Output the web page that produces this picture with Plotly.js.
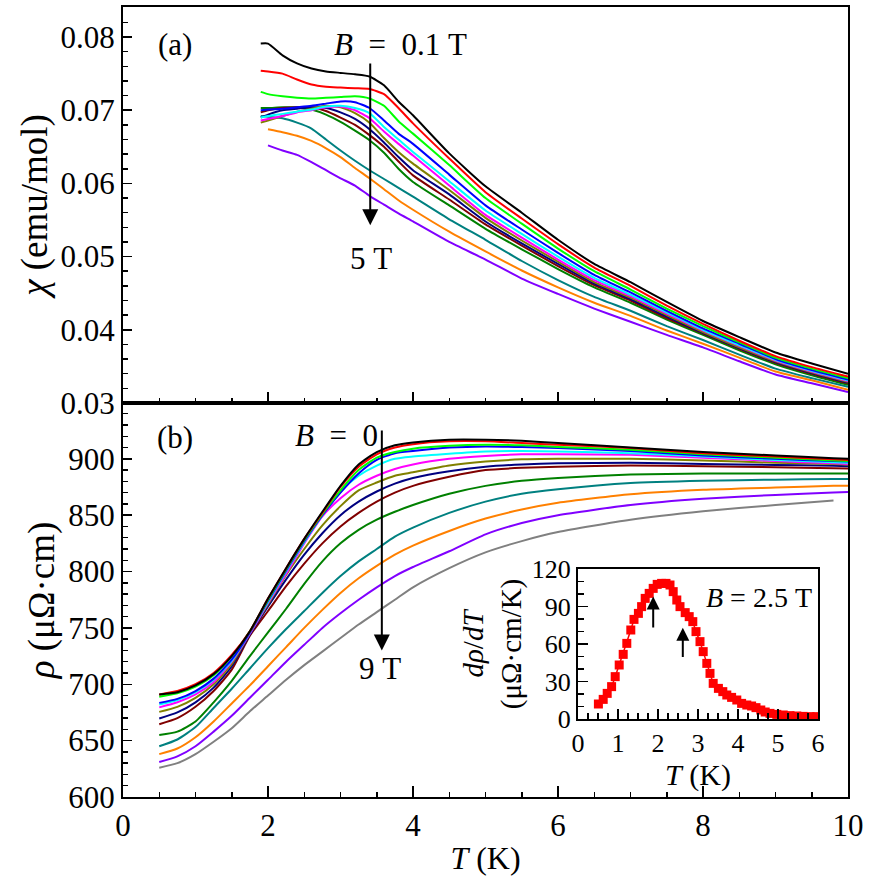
<!DOCTYPE html>
<html>
<head>
<meta charset="utf-8">
<script src="https://cdn.plot.ly/plotly-3.0.1.min.js"></script>
<style>html,body{margin:0;padding:0;background:#fff;}#chart{width:876px;height:888px;}</style>
</head>
<body>
<div id="chart"></div>
<script>
// ---------- panel (a): susceptibility chi(T), B = 0.1 ... 5 T ----------
const T_chi = [1.9, 2.0, 2.2, 2.4, 2.6, 2.8, 3.0, 3.2, 3.4, 3.6, 3.8, 4.0, 4.5, 5.0, 5.5, 6.0, 6.5, 7.0, 7.5, 8.0, 8.5, 9.0, 9.5, 10.0];
const chi_black   = [0.0791,0.0791,0.0775,0.0764,0.0757,0.0753,0.0751,0.0749,0.0746,0.0734,0.0712,0.0693,0.0641,0.0596,0.0560,0.0523,0.0490,0.0465,0.0438,0.0412,0.0390,0.0369,0.0354,0.0340];
const chi_red     = [0.0754,0.0753,0.0750,0.0742,0.0735,0.0732,0.0731,0.0730,0.0729,0.0722,0.0703,0.0682,0.0634,0.0588,0.0552,0.0517,0.0485,0.0460,0.0433,0.0408,0.0385,0.0364,0.0349,0.0336];
const chi_green   = [0.0725,0.0722,0.0719,0.0717,0.0716,0.0717,0.0718,0.0719,0.0716,0.0706,0.0685,0.0668,0.0625,0.0580,0.0545,0.0511,0.0480,0.0455,0.0429,0.0405,0.0383,0.0362,0.0347,0.0334];
const chi_blue    = [0.0700,0.0701,0.0702,0.0704,0.0706,0.0709,0.0712,0.0711,0.0703,0.0686,0.0668,0.0654,0.0612,0.0570,0.0537,0.0505,0.0475,0.0451,0.0426,0.0402,0.0381,0.0360,0.0345,0.0332];
const chi_cyan    = [0.0690,0.0692,0.0695,0.0698,0.0701,0.0705,0.0706,0.0703,0.0696,0.0677,0.0660,0.0643,0.0603,0.0563,0.0531,0.0500,0.0471,0.0448,0.0424,0.0400,0.0379,0.0359,0.0344,0.0331];
const chi_magenta = [0.0686,0.0688,0.0692,0.0697,0.0700,0.0704,0.0705,0.0700,0.0689,0.0671,0.0654,0.0638,0.0597,0.0557,0.0526,0.0496,0.0468,0.0446,0.0422,0.0399,0.0378,0.0358,0.0343,0.0330];
const chi_olive   = [0.0683,0.0686,0.0692,0.0698,0.0702,0.0706,0.0704,0.0696,0.0683,0.0662,0.0643,0.0627,0.0591,0.0553,0.0522,0.0493,0.0465,0.0444,0.0420,0.0397,0.0376,0.0357,0.0342,0.0329];
const chi_navy    = [0.0690,0.0694,0.0700,0.0702,0.0704,0.0703,0.0697,0.0688,0.0674,0.0656,0.0636,0.0618,0.0585,0.0548,0.0518,0.0490,0.0463,0.0442,0.0418,0.0396,0.0375,0.0356,0.0341,0.0328];
const chi_maroon  = [0.0697,0.0700,0.0703,0.0704,0.0704,0.0699,0.0690,0.0680,0.0666,0.0650,0.0630,0.0611,0.0578,0.0544,0.0515,0.0487,0.0461,0.0440,0.0416,0.0395,0.0374,0.0355,0.0340,0.0327];
const chi_dkgreen = [0.0703,0.0703,0.0704,0.0704,0.0701,0.0694,0.0684,0.0672,0.0659,0.0642,0.0620,0.0602,0.0570,0.0538,0.0510,0.0483,0.0458,0.0437,0.0414,0.0393,0.0372,0.0353,0.0338,0.0325];
const chi_teal    = [0.0692,0.0691,0.0689,0.0683,0.0675,0.0660,0.0645,0.0631,0.0618,0.0606,0.0594,0.0582,0.0551,0.0523,0.0494,0.0468,0.0445,0.0426,0.0405,0.0386,0.0366,0.0347,0.0334,0.0322];
const chi_orange  = [null,0.0674,0.0670,0.0665,0.0658,0.0648,0.0636,0.0621,0.0607,0.0592,0.0577,0.0564,0.0534,0.0507,0.0481,0.0458,0.0437,0.0419,0.0399,0.0381,0.0362,0.0343,0.0331,0.0318];
const chi_purple  = [null,0.0652,0.0645,0.0639,0.0629,0.0618,0.0607,0.0597,0.0583,0.0571,0.0559,0.0548,0.0520,0.0496,0.0470,0.0449,0.0429,0.0411,0.0393,0.0376,0.0357,0.0339,0.0327,0.0315];

// ---------- panel (b): resistivity rho(T), B = 0 ... 9 T ----------
const T_rho = [0.5, 0.75, 1.0, 1.25, 1.5, 1.75, 2.0, 2.25, 2.5, 2.75, 3.0, 3.25, 3.5, 3.75, 4.0, 4.5, 5.0, 5.5, 6.0, 7.0, 8.0, 9.0, 9.8, 10.0];
const rho_black   = [691,693,699,709,725,747,776,803,829,853,876,895,906,912,914.5,917,917,916,914,910,906,903,900.5,900];
const rho_red     = [691,694,700,710,726,747,776,803,829,852,875,893,904,910,913,915.5,915.5,914,912.5,909.5,905,902,899.5,899];
const rho_green   = [689,692,698,708,725,747,775,802,828,851,872,890,901,906,909,911.5,912.5,912,910.5,908,904,901,898.5,898];
const rho_blue    = [683.5,687,694,705,722,746,774,801,827,850,870,887,899,905,907,910,911,910.5,909.5,907,903,900,898,897.5];
const rho_cyan    = [682,686,693,704,721,746,773,800,826,850,871,885,894,900,902,904.5,906.5,907,906.5,905,902,899,897,896.5];
const rho_magenta = [679.5,684,691,702,720,745,772,798,825,849,865,877,885,891,895,900,902.5,904,904,903.5,901,898,896,895.5];
const rho_olive   = [675.5,680,688,700,718,745,771,797,820,841,858,872,879,885,888,894,897.5,899.5,900,900,898.5,896.5,895.5,895];
const rho_navy    = [669.6,675,684,697,716,744,769,793,815,834,850,862,871,878,883,889,893,895,896,896.5,895.5,894.5,893.8,893.5];
const rho_maroon  = [664.6,670,680,694,713,743,765,787,807,825,840,852,862,870,876,884,890,892,893,894,893.5,892.5,891.7,891.5];
const rho_dkgreen = [655,658,667,684,703,725,746,767,789,809,825,837,846,853,859,869,876,880.5,883,886,887,887,887,887];
const rho_teal    = [645,651,662,679,696,714,732,749,765,781,796,809,820,831,839,852,862,869,873,878.5,880.5,881.5,882,882];
const rho_orange  = [638,643,653,667,683,699,716,733,750,766,781,794,805,815,823,836,847,855,861,868.5,872.5,874.5,876,876];
const rho_purple  = [631,636,645,658,672,688,704,720,735,750,763,775,786,796,804,818,833,843,850,859,864.5,868,870,870.5];
const rho_gray    = [626,630,638,649,661,676,690,704,717,729,741,753,764,775,786,803,817,827,835,846,853.5,859,863,null];

// ---------- inset: d rho / dT at B = 2.5 T ----------
const T_inset = [0.51,0.63,0.73,0.84,0.93,1.03,1.13,1.22,1.32,1.40,1.51,1.59,1.68,1.78,1.88,1.98,2.09,2.20,2.30,2.38,2.47,2.55,2.68,2.78,2.87,2.95,3.05,3.13,3.22,3.30,3.38,3.51,3.62,3.72,3.84,3.97,4.09,4.22,4.34,4.45,4.57,4.68,4.80,4.97,5.13,5.30,5.47,5.63,5.80,5.97];
const drho_inset = [12,15.7,20.5,25.9,33.9,43.2,51.7,60.5,71.2,79.7,84.5,89.9,96.5,100.5,104.5,107.7,108.5,108.5,107.2,101.9,95.2,89.9,85.1,81.9,77.9,69.9,61.9,53.9,44.5,36.5,28.5,24.5,21.9,19.2,17.3,15.2,12.5,11.2,10.4,9.1,7.2,5.6,4.5,3.7,3.2,2.7,2.4,2.1,1.9,1.9];

const chiSeries = [chi_black, chi_red, chi_green, chi_blue, chi_cyan, chi_magenta, chi_olive, chi_navy, chi_maroon, chi_dkgreen, chi_teal, chi_orange, chi_purple];
const chiColors = ['#000000','#ff0000','#00ff00','#0000ff','#00ffff','#ff00ff','#808000','#000080','#800000','#008000','#008080','#ff8000','#8000ff'];
const rhoSeries = [rho_black, rho_red, rho_green, rho_blue, rho_cyan, rho_magenta, rho_olive, rho_navy, rho_maroon, rho_dkgreen, rho_teal, rho_orange, rho_purple, rho_gray];
const rhoColors = ['#000000','#ff0000','#00ff00','#0000ff','#00ffff','#ff00ff','#808000','#000080','#800000','#008000','#008080','#ff8000','#8000ff','#808080'];

const traces = [];
for (let i = chiSeries.length - 1; i >= 0; i--) traces.push({x: T_chi, y: chiSeries[i], type: 'scatter', mode: 'lines', xaxis: 'x', yaxis: 'y',
  line: {color: chiColors[i], width: 2, shape: 'spline', smoothing: 0.5}, showlegend: false, hoverinfo: 'skip'});
for (let i = rhoSeries.length - 1; i >= 0; i--) traces.push({x: T_rho, y: rhoSeries[i], type: 'scatter', mode: 'lines', xaxis: 'x2', yaxis: 'y2',
  line: {color: rhoColors[i], width: 2, shape: 'spline', smoothing: 0.6}, showlegend: false, hoverinfo: 'skip'});
traces.push({x: T_inset, y: drho_inset, type: 'scatter', mode: 'lines+markers', xaxis: 'x3', yaxis: 'y3',
  line: {color: '#ff0000', width: 1.5}, marker: {symbol: 'square', size: 9, color: '#ff0000'}, showlegend: false, hoverinfo: 'skip'});

const FONT = 'Liberation Serif, DejaVu Serif, serif';
const W = 876, H = 888;
const px = v => v / W, py = v => 1 - v / H;
const NB = '\u00a0';

const axBase = {showline: true, linecolor: '#000', linewidth: 2, mirror: true, showgrid: false, zeroline: false,
  ticks: 'inside', tickcolor: '#000', tickwidth: 1.5, tickfont: {family: FONT, size: 31, color: '#000'}};
const minorOf = (d, l) => ({dtick: d, ticklen: l, ticks: 'inside', tickcolor: '#000', tickwidth: 1.5});
const ann = (x, y, text, size) => ({xref: 'paper', yref: 'paper', x: px(x), y: py(y), xanchor: 'center', yanchor: 'middle',
  text: text, showarrow: false, font: {family: FONT, size: size, color: '#000'}});

const layout = {
  width: W, height: H, margin: {l: 0, r: 0, t: 0, b: 0}, paper_bgcolor: '#fff', plot_bgcolor: 'rgba(0,0,0,0)',
  font: {family: FONT, color: '#000'},
  showlegend: false,
  xaxis: Object.assign({}, axBase, {domain: [px(123), px(848)], range: [0, 10], anchor: 'y', dtick: 2, tick0: 0, ticklen: 11,
    showticklabels: false, minor: minorOf(0.5, 5)}),
  yaxis: Object.assign({}, axBase, {domain: [py(403), py(7)], range: [0.03, 0.0841], anchor: 'x', dtick: 0.01, tick0: 0.03, tickformat: '.2f', ticklen: 9,
    minor: minorOf(0.002, 5),
    title: {text: '<i>χ</i>' + NB + '(emu/mol)', font: {family: FONT, size: 37, color: '#000'}, standoff: 2}}),
  xaxis2: Object.assign({}, axBase, {domain: [px(123), px(848)], range: [0, 10], anchor: 'y2', dtick: 2, tick0: 0, ticklen: 11,
    minor: minorOf(0.5, 5),
    title: {text: '<i>T</i>' + NB + '(K)', font: {family: FONT, size: 32, color: '#000'}, standoff: 4}}),
  yaxis2: Object.assign({}, axBase, {domain: [py(797), py(403)], range: [600, 949.5], anchor: 'x2', dtick: 50, tick0: 600, ticklen: 9,
    minor: minorOf(10, 5),
    title: {text: '<i>ρ</i>' + NB + '(μΩ·cm)', font: {family: FONT, size: 37, color: '#000'}, standoff: 2}}),
  xaxis3: Object.assign({}, axBase, {domain: [px(578), px(818)], range: [0, 6], anchor: 'y3', dtick: 1, tick0: 0, ticklen: 10,
    tickfont: {family: FONT, size: 26, color: '#000'}, minor: minorOf(0.25, 6),
    title: {text: '<i>T</i>' + NB + '(K)', font: {family: FONT, size: 30, color: '#000'}, standoff: 2}}),
  yaxis3: Object.assign({}, axBase, {domain: [py(719), py(569)], range: [0, 120], anchor: 'x3', dtick: 30, tick0: 0, ticklen: 10,
    tickfont: {family: FONT, size: 26, color: '#000'}, minor: minorOf(10, 6),
    title: {text: '<i>dρ</i>/<i>dT</i><br>(μΩ·cm/K)', font: {family: FONT, size: 29, color: '#000'}, standoff: 2}}),
  annotations: [
    ann(175, 44, '(a)', 31),
    ann(400, 44, '<i>B</i>' + NB + NB + '=' + NB + NB + '0.1' + NB + 'T', 31),
    {xref: 'x', yref: 'y', x: 3.41, y: 0.0543, ax: 3.41, ay: 0.0766, axref: 'x', ayref: 'y', text: '', showarrow: true,
      arrowhead: 2, arrowsize: 1.6, arrowwidth: 2, arrowcolor: '#000'},
    ann(371, 258, '5' + NB + 'T', 31),
    ann(175, 438, '(b)', 31),
    ann(336, 435, '<i>B</i>' + NB + NB + '=' + NB + NB + '0', 31),
    {xref: 'x2', yref: 'y2', x: 3.57, y: 730, ax: 3.57, ay: 926.5, axref: 'x2', ayref: 'y2', text: '', showarrow: true,
      arrowhead: 2, arrowsize: 1.6, arrowwidth: 2, arrowcolor: '#000'},
    ann(380, 668, '9' + NB + 'T', 31),
    Object.assign(ann(814, 597, '<i>B</i>' + NB + '=' + NB + '2.5' + NB + 'T', 28), {xanchor: 'right'}),
    {xref: 'x3', yref: 'y3', x: 1.88, y: 98, ax: 1.88, ay: 72, axref: 'x3', ayref: 'y3', text: '', showarrow: true,
      arrowhead: 2, arrowsize: 1.3, arrowwidth: 2, arrowcolor: '#000'},
    {xref: 'x3', yref: 'y3', x: 2.62, y: 73, ax: 2.62, ay: 48.5, axref: 'x3', ayref: 'y3', text: '', showarrow: true,
      arrowhead: 2, arrowsize: 1.3, arrowwidth: 2, arrowcolor: '#000'}
  ]
};

Plotly.newPlot('chart', traces, layout, {staticPlot: true, displayModeBar: false});
</script>
</body>
</html>
